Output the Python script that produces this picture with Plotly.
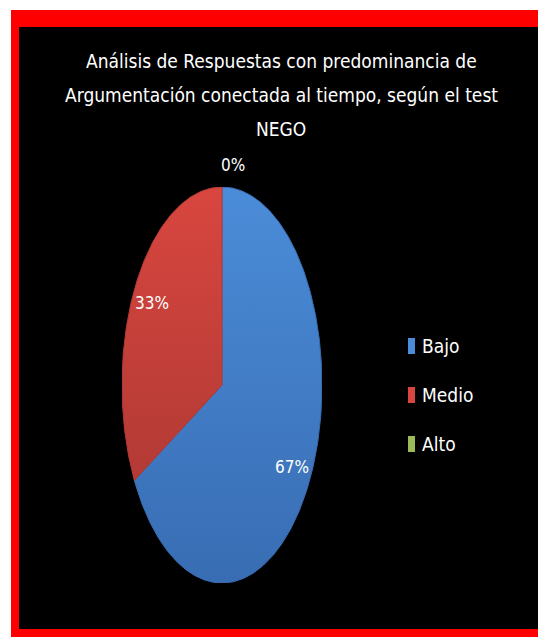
import math
import plotly.graph_objects as go

# Response levels and their share of answers (%)
categories = ["Bajo", "Medio", "Alto"]
values = [67, 33, 0]
title_lines = [
    "Análisis de Respuestas con predominancia de",
    "Argumentación conectada al tiempo, según el test",
    "NEGO",
]

# light (top) / dark (bottom) shade per slice
colors_light = ["#4b8cd8", "#d8463f", "#9bbb59"]
colors_dark = ["#386db3", "#b33a35", "#71893f"]

W, H = 538, 637
FONT = "DejaVu Sans Condensed, DejaVu Sans, sans-serif"


def px(x):
    return x / W


def py(y):
    return 1 - y / H


# pie bounding box in pixels (the pie is stretched vertically)
cx, cy, rx, ry = 222, 385, 100, 198

fig = go.Figure()

total = sum(values)
cum = 0.0
label_pos = []
for cat, v, cl, cd in zip(categories, values, colors_light, colors_dark):
    a0 = 90 - 360 * cum / total
    a1 = 90 - 360 * (cum + v) / total
    cum += v
    mid = math.radians((a0 + a1) / 2)
    label_pos.append((math.cos(mid), math.sin(mid), v))
    if v <= 0:
        continue
    n = max(8, int(abs(a0 - a1) * 2))
    xs, ys = [0.0], [0.0]
    for k in range(n + 1):
        t = math.radians(a0 + (a1 - a0) * k / n)
        xs.append(math.cos(t))
        ys.append(math.sin(t))
    xs.append(0.0)
    ys.append(0.0)
    fig.add_trace(go.Scatter(
        x=xs, y=ys, mode="lines", fill="toself", name=cat,
        line=dict(color=cd, width=1),
        fillcolor=cl,
        fillgradient=dict(type="vertical", colorscale=[[0, cd], [1, cl]]),
        hoverinfo="name", showlegend=False,
    ))

fig.update_xaxes(range=[-1, 1], domain=[px(cx - rx), px(cx + rx)],
                 visible=False, fixedrange=True)
fig.update_yaxes(range=[-1, 1], domain=[py(cy + ry), py(cy - ry)],
                 visible=False, fixedrange=True)

annotations = []
# percentage labels along each slice's middle angle (outside for empty slices)
for (ux, uy, v) in label_pos:
    r = 0.81 if v > 0 else 1.11
    annotations.append(dict(
        x=px(cx + ux * r * rx), y=py(cy - uy * r * ry),
        xref="paper", yref="paper", text=f"{v}%",
        showarrow=False, xshift=0 if v > 0 else 11,
        xanchor="center", yanchor="middle",
        font=dict(family=FONT, size=17, color="white"),
    ))

# title, one annotation per line
for i, line in enumerate(title_lines):
    annotations.append(dict(
        x=px(281), y=py(61 + 34 * i), xref="paper", yref="paper",
        text=line, showarrow=False, xanchor="center", yanchor="middle",
        font=dict(family=FONT, size=19, color="white"),
    ))

shapes = [
    dict(type="rect", xref="paper", yref="paper", x0=px(11), x1=1.0,
         y0=0, y1=py(10), fillcolor="#ff0000", line=dict(width=0), layer="below"),
    dict(type="rect", xref="paper", yref="paper", x0=px(19), x1=1.0,
         y0=py(629), y1=py(27), fillcolor="#000000", line=dict(width=0), layer="below"),
]

# legend: small swatch plus category name
for i, (cat, cl) in enumerate(zip(categories, colors_light)):
    yc = 346 + 49 * i
    shapes.append(dict(type="rect", xref="paper", yref="paper",
                       x0=px(408), x1=px(415), y0=py(yc + 8), y1=py(yc - 8),
                       fillcolor=cl, line=dict(width=0)))
    annotations.append(dict(
        x=px(420), y=py(yc), xref="paper", yref="paper", text=cat,
        showarrow=False, xanchor="left", yanchor="middle",
        font=dict(family=FONT, size=19, color="white"),
    ))

fig.update_layout(
    width=W, height=H, margin=dict(l=0, r=0, t=0, b=0),
    paper_bgcolor="white", plot_bgcolor="rgba(0,0,0,0)",
    shapes=shapes, annotations=annotations, showlegend=False,
)

fig.write_html("out.html")
